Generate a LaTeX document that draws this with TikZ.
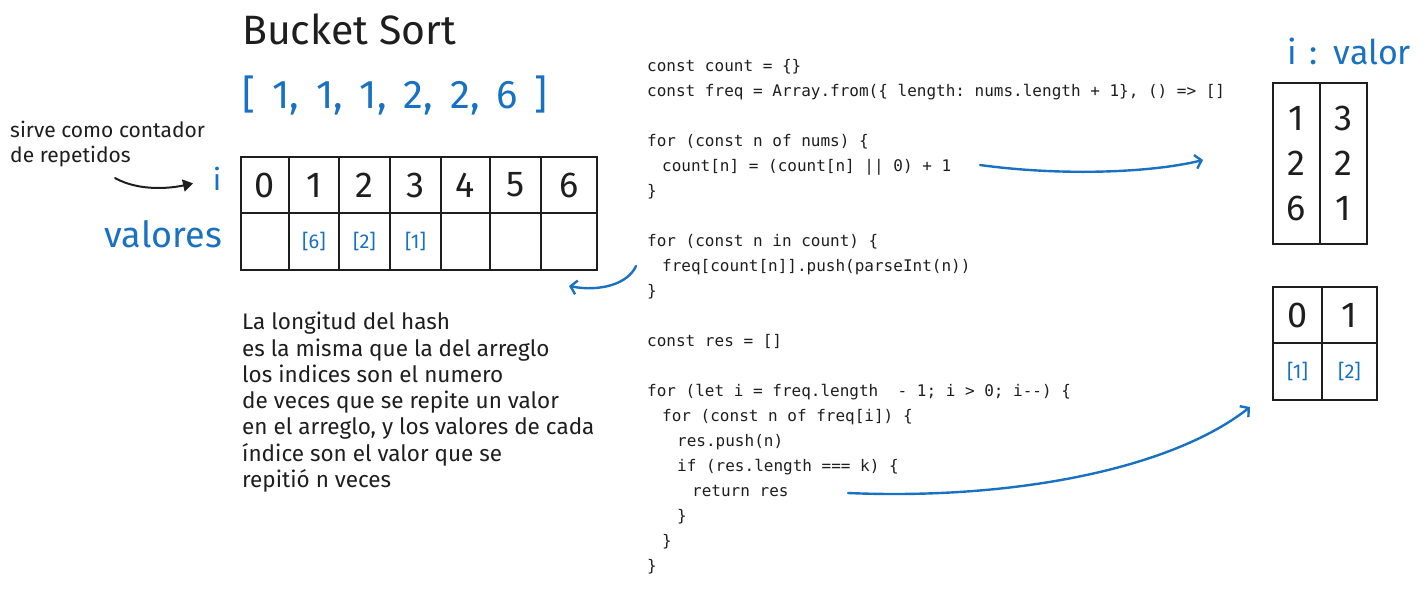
\documentclass[tikz,border=0pt]{standalone}
\usepackage{fontspec}
\setmainfont{Fira Sans}
\newfontfamily\codefont{DejaVu Sans Mono}
\usepackage{xcolor}
\definecolor{exBlue}{HTML}{1971C2}
\definecolor{exInk}{HTML}{1E1E1E}
\usetikzlibrary{positioning,arrows.meta}
\newcommand{\codeind}{\hspace*{15pt}}
\newcommand{\numsfont}{\fontsize{40}{44}\selectfont\spaceskip 17pt\relax}
\newcommand{\mapfont}{\fontsize{34}{36}\selectfont\spaceskip 13pt\relax}

\begin{document}
\begin{tikzpicture}[x=1pt, y=-1pt,
      cell/.style={rectangle, draw=exInk, line width=1.6pt, inner sep=0pt,
                   minimum height=56pt, text=exInk, align=center,
                   font=\fontsize{36}{40}\selectfont},
      valcell/.style={cell, text=exBlue, font=\fontsize{20}{24}\selectfont},
      hand/.style={inner sep=0pt, text=exInk, align=left},
      link/.style={-{Straight Barb[length=6pt,width=14pt]}, exBlue, line width=2.4pt, line cap=round},
      pointer/.style={-{Triangle[length=10pt,width=12pt]}, exInk, line width=2pt, line cap=round}
    ]
    \useasboundingbox (0,0) rectangle (1427,590);

    % titulo y arreglo de entrada
    \node[hand, anchor=base west, font=\fontsize{41}{44}\selectfont] (title) at (242,44) {Bucket Sort};
    \node[hand, anchor=base west, text=exBlue, font=\numsfont] (nums) at (242,108) {[ 1, 1, 1, 2, 2, 6 ]};

    % etiquetas de la tabla
    \node[hand, anchor=north west, font=\fontsize{21}{25}\selectfont] (note) at (10,121) {sirve como contador\\de repetidos};
    \node[hand, text=exBlue, font=\fontsize{30}{34}\selectfont] (ilab) at (217,179) {i};
    \node[hand, anchor=base east, text=exBlue, font=\fontsize{36}{40}\selectfont] (vlab) at (222,247) {valores};
    \coordinate (notetip) at (115,178);
    \draw[pointer, shorten >=20pt] (notetip) .. controls (140,192) and (172,188) .. (ilab.west);

    % tabla de frecuencias
    \foreach \i/\xa/\xb/\v in {0/241/289/{}, 1/289/339/{[6]}, 2/339/390/{[2]}, 3/390/441/{[1]},
                               4/441/490/{}, 5/490/541/{}, 6/541/597/{}} {
      \pgfmathsetmacro\w{\xb-\xa}
      \node[cell, minimum width=\w pt] (i\i) at ({(\xa+\xb)/2},185) {\i};
      \node[valcell, minimum width=\w pt, minimum height=57pt] (v\i) at ({(\xa+\xb)/2},241.5) {\v};
    }

    % explicacion
    \node[hand, anchor=north west, font=\fontsize{22.5}{26.3}\selectfont] (expl) at (242,312)
      {La longitud del hash\\es la misma que la del arreglo\\los indices son el numero\\de veces que se repite un valor\\en el arreglo, y los valores de cada\\índice son el valor que se\\repitió n veces};

    % codigo
    \node[hand, anchor=north west, font=\codefont\fontsize{16}{25}\selectfont\frenchspacing] (code) at (647,59)
      {const count = \{\}\\
       const freq = Array.from(\{ length: nums.length + 1\}, () => []\\
       \mbox{}\\
       for (const n of nums) \{\\
       \codeind count[n] = (count[n] || 0) + 1\\
       \}\\
       \mbox{}\\
       for (const n in count) \{\\
       \codeind freq[count[n]].push(parseInt(n))\\
       \}\\
       \mbox{}\\
       const res = []\\
       \mbox{}\\
       for (let i = freq.length\ \ - 1; i > 0; i-{}-) \{\\
       \codeind for (const n of freq[i]) \{\\
       \codeind\codeind res.push(n)\\
       \codeind\codeind if (res.length === k) \{\\
       \codeind\codeind\codeind return res\\
       \codeind\codeind \}\\
       \codeind \}\\
       \}};

    % mapa i : valor
    \node[hand, anchor=base west, text=exBlue, font=\mapfont] (maplab) at (1287,64) {i : valor};
    \node[cell, minimum width=47pt, minimum height=161pt, font=\fontsize{36}{45}\selectfont] (keys) at (1296.5,163.5) {1\\2\\6};
    \node[cell, minimum width=47pt, minimum height=161pt, font=\fontsize{36}{45}\selectfont] (counts) at (1343.5,163.5) {3\\2\\1};

    % buckets resultado
    \node[cell, minimum width=49pt] (b0) at (1297.5,315) {0};
    \node[cell, minimum width=55pt] (b1) at (1349.5,315) {1};
    \node[valcell, minimum width=49pt, minimum height=57pt] (bv0) at (1297.5,371.5) {[1]};
    \node[valcell, minimum width=55pt, minimum height=57pt] (bv1) at (1349.5,371.5) {[2]};

    % flechas
    \coordinate (countend) at (980,165);
    \coordinate (mapin) at (1203,160);
    \coordinate (pushend) at (636,266);
    \coordinate (freqin) at (569,286);
    \coordinate (retend) at (848,493);
    \coordinate (bucketin) at (1250,407);
    \draw[link] (countend) .. controls (1060,176) and (1150,173) .. (mapin);
    \draw[link] (pushend) .. controls (628,284) and (600,292) .. (freqin);
    \draw[link] (retend) .. controls (1010,500) and (1170,470) .. (bucketin);
  \end{tikzpicture}
\end{document}
